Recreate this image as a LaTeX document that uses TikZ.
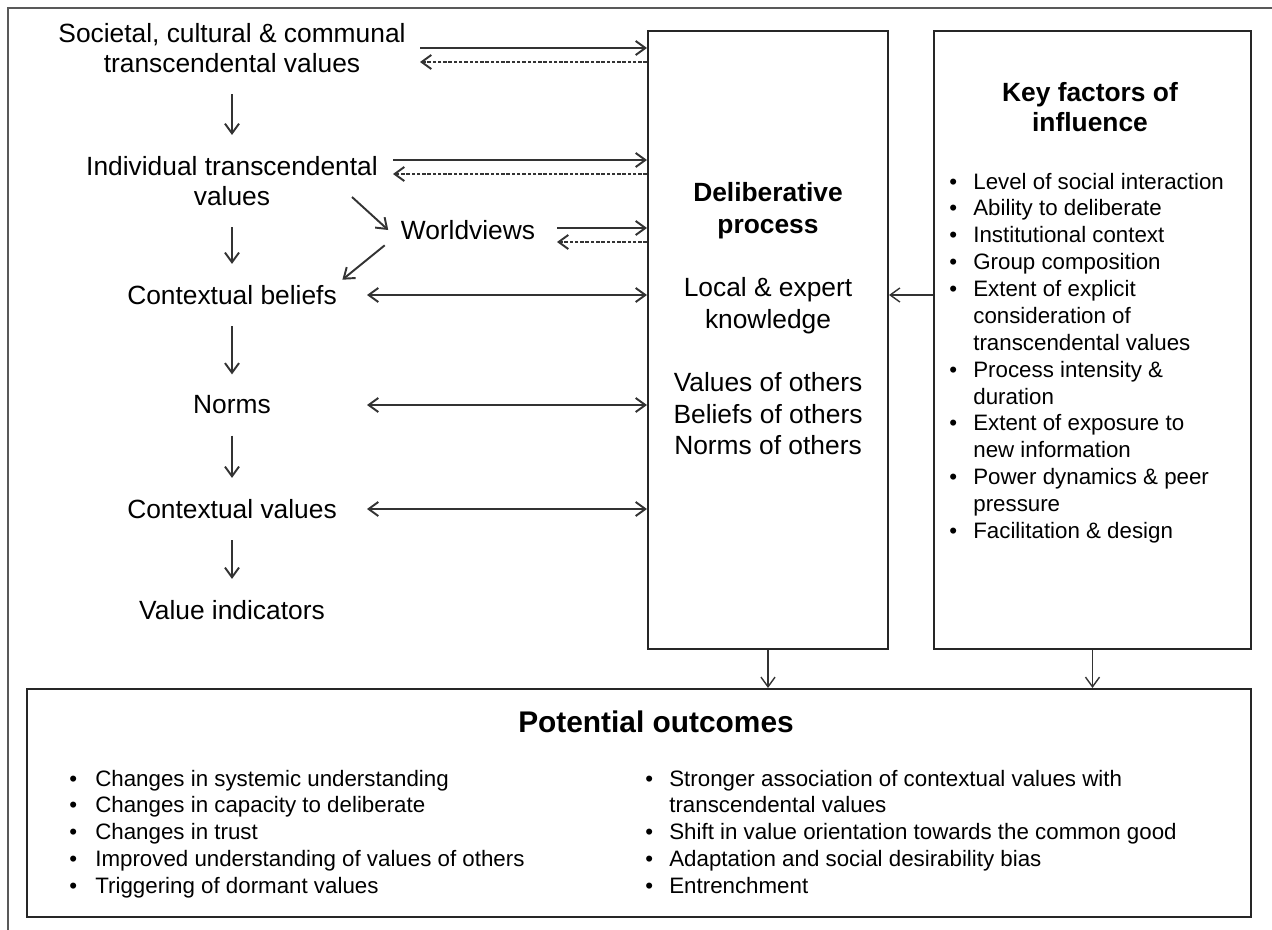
\documentclass[tikz,border=0pt]{standalone}
\usepackage{fontspec}
\setmainfont{Liberation Sans}
\usetikzlibrary{arrows.meta}
\begin{document}
\begin{tikzpicture}[x=0.02cm,y=-0.02cm,
  every node/.style={inner sep=3pt},
  lbl/.style={font=\fontsize{15}{17}\selectfont, align=center},
  small/.style={font=\fontsize{12.7}{15.3}\selectfont, inner sep=0pt},
  box/.style={draw=black!85, line width=1.2pt},
  arr/.style={draw=black!80, line width=1.1pt, -{Straight Barb[length=5.5pt,width=8pt]}},
  back/.style={arr, dash pattern=on 2pt off 1pt},
  both/.style={arr, {Straight Barb[length=5.5pt,width=8pt]}-{Straight Barb[length=5.5pt,width=8pt]}},
  down/.style={arr, shorten <=9pt, shorten >=9pt}]
\useasboundingbox (0,0) rectangle (1272,930);
\draw[black!65, line width=1.3pt] (8,930) -- (8,8) -- (1272,8);

% boxes
\node[box, minimum width=4.8cm, minimum height=12.36cm] (delib) at (768,340) {};
\node[box, minimum width=6.34cm, minimum height=12.36cm] (kf) at (1092.5,340) {};
\node[box, minimum width=24.48cm, minimum height=4.56cm] (out) at (639,803) {};

% value chain
\node[lbl] (soc) at (232,48) {Societal, cultural \& communal\\transcendental values};
\node[lbl] (ind) at (232,181) {Individual transcendental\\values};
\node[lbl] (wv) at (468,230) {Worldviews};
\node[lbl] (cb) at (232,295) {Contextual beliefs};
\node[lbl] (norms) at (232,405) {Norms};
\node[lbl] (cv) at (232,509) {Contextual values};
\node[lbl] (vi) at (232,610) {Value indicators};

\draw[down] (soc) -- (ind);
\draw[down] (ind) -- (cb);
\draw[down] (cb) -- (norms);
\draw[down] (norms) -- (cv);
\draw[down] (cv) -- (vi);
\coordinate (d1) at (352,197);
\draw[arr] (d1) -- ([xshift=-4pt]wv.west);
\draw[arr] ([xshift=-6pt]wv.south west) -- (cb.north east);

% links to the deliberative process
\coordinate (s1) at (420,48);  \coordinate (t1) at (420,62);
\coordinate (s2) at (393,160); \coordinate (t2) at (393,174);
\coordinate (s3) at (557,228); \coordinate (t3) at (557,242);
\draw[arr] (s1) -- (s1 -| delib.west);
\draw[back] (t1 -| delib.west) -- (t1);
\draw[arr] (s2) -- (s2 -| delib.west);
\draw[back] (t2 -| delib.west) -- (t2);
\draw[arr] (s3) -- (s3 -| delib.west);
\draw[back] (t3 -| delib.west) -- (t3);
\coordinate (lx) at (367,0);
\draw[both] (cb -| lx) -- (cb -| delib.west);
\draw[both] (norms -| lx) -- (norms -| delib.west);
\draw[both] (cv -| lx) -- (cv -| delib.west);

\node[font=\fontsize{15}{18}\selectfont, align=center] (dtext) at (768,319)
  {\textbf{Deliberative}\\\textbf{process}\\[18pt]Local \& expert\\knowledge\\[18pt]Values of others\\Beliefs of others\\Norms of others};

\node[font=\bfseries\fontsize{15}{17.5}\selectfont, align=center] (kftitle) at (1090,107) {Key factors of\\influence};
\node[small, anchor=base west] (kflist) at (949,189) {\begin{tabular}[t]{@{}p{0.48cm}@{}l@{}}
\textbullet & Level of social interaction\\
\textbullet & Ability to deliberate\\
\textbullet & Institutional context\\
\textbullet & Group composition\\
\textbullet & Extent of explicit\\
 & consideration of\\
 & transcendental values\\
\textbullet & Process intensity \&\\
 & duration\\
\textbullet & Extent of exposure to\\
 & new information\\
\textbullet & Power dynamics \& peer\\
 & pressure\\
\textbullet & Facilitation \& design
\end{tabular}};

\draw[arr, line width=0.8pt] (kf.west |- cb) -- (delib.east |- cb);
\draw[arr, line width=0.8pt] (delib.south) -- (delib.south |- out.north);
\draw[arr, line width=0.8pt] (kf.south) -- (kf.south |- out.north);

% outcomes
\node[font=\bfseries\fontsize{17}{20}\selectfont] (outtitle) at (656,722) {Potential outcomes};
\node[small, anchor=base west] (outleft) at (69,786) {\begin{tabular}[t]{@{}p{0.52cm}@{}l@{}}
\textbullet & Changes in systemic understanding\\
\textbullet & Changes in capacity to deliberate\\
\textbullet & Changes in trust\\
\textbullet & Improved understanding of values of others\\
\textbullet & Triggering of dormant values
\end{tabular}};
\node[small, anchor=base west] (outright) at (645,786) {\begin{tabular}[t]{@{}p{0.48cm}@{}l@{}}
\textbullet & Stronger association of contextual values with\\
 & transcendental values\\
\textbullet & Shift in value orientation towards the common good\\
\textbullet & Adaptation and social desirability bias\\
\textbullet & Entrenchment
\end{tabular}};
\end{tikzpicture}
\end{document}
